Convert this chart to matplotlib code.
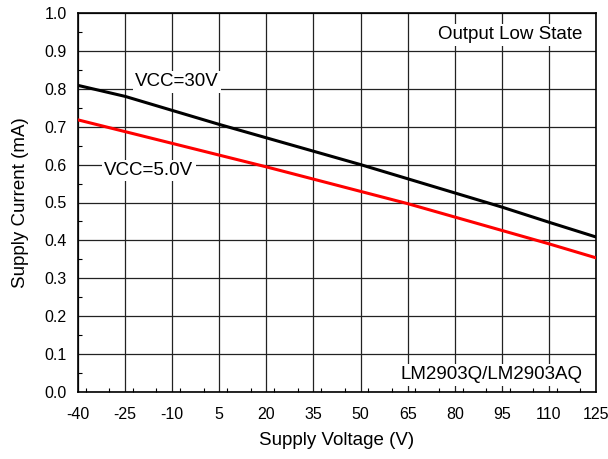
import matplotlib.pyplot as plt
import numpy as np
from matplotlib.ticker import MultipleLocator

plt.rcParams['font.family'] = ['Liberation Sans', 'DejaVu Sans']
plt.rcParams['axes.unicode_minus'] = False

# data
temp = [-40, -25, 5, 50, 95, 110, 125]
vcc30 = [0.809, 0.780, 0.706, 0.600, 0.488, 0.448, 0.409]
temp_5 = [-40, 20, 65, 110, 125]
vcc5 = [0.718, 0.594, 0.497, 0.391, 0.354]
xticks = np.arange(-40, 126, 15)
yticks = np.arange(0, 1.01, 0.1)

fig = plt.figure(figsize=(6.08, 4.59), dpi=100)
ax = fig.add_axes([78 / 608, 1 - 392 / 459, 518 / 608, 379 / 459])

ax.plot(temp, vcc30, color='black', lw=2.2, zorder=3)
ax.plot(temp_5, vcc5, color='#ff0000', lw=2.2, zorder=3)

ax.set_xlim(-40, 125)
ax.set_ylim(0, 1.0)
ax.set_xticks(xticks)
ax.set_yticks(yticks)
ax.set_yticklabels(['%.1f' % v for v in yticks])
ax.xaxis.set_minor_locator(MultipleLocator(7.5))
ax.yaxis.set_minor_locator(MultipleLocator(0.05))
ax.tick_params(which='major', length=0, labelsize=11.5)
ax.tick_params(axis='x', which='major', pad=11)
ax.tick_params(axis='y', which='major', pad=8)
ax.tick_params(which='minor', direction='in', length=3, width=0.8)
ax.grid(True, which='major', color='#222222', lw=0.9)
for s in ax.spines.values():
    s.set_linewidth(1.2)

ax.set_xlabel('Supply Voltage (V)', fontsize=13.5, labelpad=7)
ax.set_ylabel('Supply Current (mA)', fontsize=13.5, labelpad=11)

box = dict(facecolor='white', edgecolor='none', pad=1.5)
ax.text(-8.5, 0.818, 'VCC=30V', ha='center', va='center', fontsize=13.5, bbox=box, zorder=4)
ax.text(-17.4, 0.584, 'VCC=5.0V', ha='center', va='center', fontsize=13.5, bbox=box, zorder=4)
ax.text(120.8, 0.942, 'Output Low State', ha='right', va='center', fontsize=13.5, bbox=box, zorder=4)
ax.text(120.8, 0.045, 'LM2903Q/LM2903AQ', ha='right', va='center', fontsize=13.5, bbox=box, zorder=4)

fig.savefig('out.png', dpi=100)
